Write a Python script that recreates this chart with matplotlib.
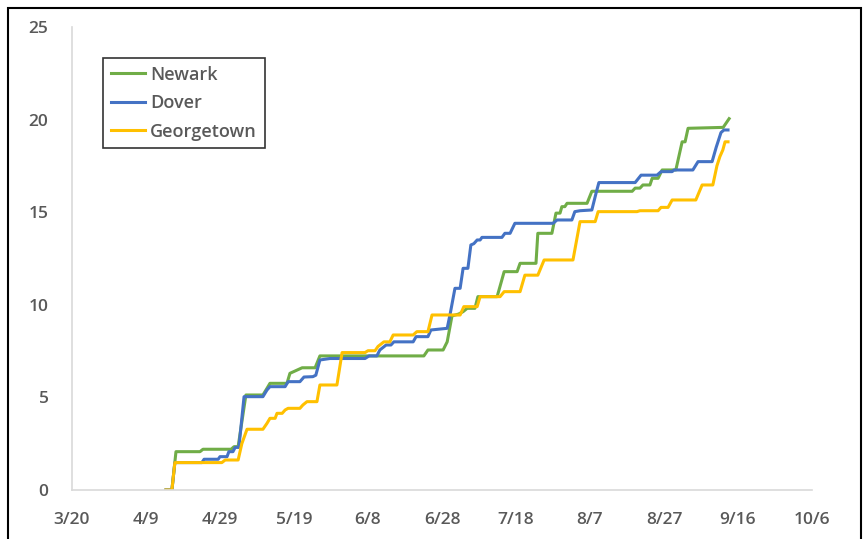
import matplotlib
matplotlib.use("Agg")
import matplotlib.pyplot as plt
from matplotlib.patches import Rectangle

# Days since 3/20
tick_days = [0, 20, 40, 60, 80, 100, 120, 140, 160, 180, 200]
tick_labels = ["3/20", "4/9", "4/29", "5/19", "6/8", "6/28", "7/18", "8/7", "8/27", "9/16", "10/6"]
y_ticks = [0, 5, 10, 15, 20, 25]

newark_day = [25.4, 27.0, 28.1, 34.6, 35.4, 43.0, 43.8, 44.9, 45.4, 47.0, 51.6, 52.7, 53.5,
              58.1, 58.9, 61.1, 62.2, 65.7, 67.0, 95.1, 96.2, 100.3, 101.4, 102.7, 104.5,
              105.7, 106.8, 108.9, 109.7, 114.9, 116.8, 120.3, 121.1, 125.4, 125.9, 129.7,
              130.8, 131.9, 132.4, 133.2, 133.8, 139.2, 140.5, 151.4, 152.2, 153.5, 154.3,
              156.2, 156.8, 158.4, 159.5, 163.2, 164.9, 165.7, 166.5, 176.0, 177.6]
newark_val = [0, 0, 2.07, 2.07, 2.2, 2.2, 2.34, 2.34, 3.0, 5.13, 5.13, 5.49, 5.76,
              5.76, 6.3, 6.5, 6.6, 6.6, 7.24, 7.24, 7.56, 7.56, 8.0, 9.4, 9.5,
              9.63, 9.81, 9.81, 10.44, 10.44, 11.79, 11.79, 12.24, 12.24, 13.86, 13.86,
              14.95, 14.95, 15.3, 15.3, 15.48, 15.48, 16.13, 16.13, 16.3, 16.3, 16.47,
              16.47, 16.83, 16.83, 17.28, 17.28, 18.8, 18.8, 19.53, 19.58, 20.05]

dover_day = [25.4, 27.0, 27.8, 35.1, 35.7, 39.5, 40.0, 41.9, 42.4, 43.5, 44.1, 45.1, 46.5,
             51.6, 52.7, 53.5, 57.6, 58.4, 61.6, 62.7, 65.1, 65.9, 67.0, 69.7, 79.2, 80.3,
             82.4, 83.2, 84.9, 86.2, 87.0, 92.2, 93.0, 96.2, 97.0, 101.4, 102.2, 103.5,
             104.9, 105.7, 107.0, 107.8, 108.6, 109.5, 110.3, 110.8, 116.2, 117.0, 118.4,
             119.7, 130.0, 131.1, 135.1, 135.9, 137.3, 140.5, 141.6, 142.4, 152.2, 153.8,
             158.1, 159.2, 162.2, 162.7, 167.8, 169.2, 173.0, 174.1, 175.4, 176.2, 177.3]
dover_val = [0, 0, 1.48, 1.48, 1.66, 1.66, 1.8, 1.8, 2.07, 2.07, 2.3, 2.3, 5.04,
             5.04, 5.4, 5.58, 5.58, 5.85, 5.85, 6.1, 6.12, 6.2, 7.02, 7.1, 7.1, 7.24,
             7.24, 7.56, 7.83, 7.83, 8.0, 8.0, 8.28, 8.28, 8.64, 8.73, 9.5, 10.89,
             10.89, 11.97, 11.97, 13.23, 13.3, 13.5, 13.5, 13.64, 13.64, 13.86, 13.86,
             14.4, 14.4, 14.58, 14.58, 15.03, 15.08, 15.12, 16.0, 16.6, 16.6, 17.0,
             17.0, 17.19, 17.19, 17.28, 17.28, 17.73, 17.73, 18.5, 19.3, 19.44, 19.44]

georgetown_day = [25.4, 27.0, 27.8, 40.5, 41.4, 44.9, 45.9, 47.3, 51.6, 52.7, 53.5, 54.9,
                  55.4, 56.8, 57.6, 58.4, 61.6, 62.4, 63.5, 66.2, 67.0, 71.6, 73.0, 79.2,
                  80.0, 81.9, 82.7, 84.3, 85.9, 86.8, 92.2, 93.2, 96.2, 97.3, 104.9, 105.9,
                  109.5, 110.3, 115.7, 116.8, 121.1, 122.4, 125.9, 127.6, 135.4, 137.3,
                  141.4, 142.2, 152.7, 153.5, 158.4, 159.2, 161.1, 162.2, 168.6, 170.3,
                  173.2, 174.3, 175.1, 175.9, 176.5, 177.3]
georgetown_val = [0, 0, 1.48, 1.48, 1.62, 1.62, 2.5, 3.28, 3.28, 3.6, 3.87, 3.87,
                  4.14, 4.14, 4.32, 4.41, 4.41, 4.59, 4.77, 4.77, 5.67, 5.67, 7.42, 7.42,
                  7.52, 7.52, 7.75, 8.0, 8.0, 8.37, 8.37, 8.55, 8.55, 9.45, 9.45, 9.9,
                  9.9, 10.44, 10.44, 10.71, 10.71, 11.6, 11.6, 12.42, 12.42, 14.49,
                  14.49, 15.03, 15.03, 15.08, 15.08, 15.26, 15.26, 15.66, 15.66, 16.47,
                  16.47, 17.5, 18.0, 18.36, 18.8, 18.8]

series = [("Newark", newark_day, newark_val, "#70AD47"),
          ("Dover", dover_day, dover_val, "#4472C4"),
          ("Georgetown", georgetown_day, georgetown_val, "#FFC000")]

plt.rcParams['font.family'] = ['Open Sans', 'DejaVu Sans']

fig = plt.figure(figsize=(8.66, 5.39), dpi=100)
ax = fig.add_axes([72/866, 1-490/539, 740/866, 463/539])

for name, d, v, c in series:
    ax.plot(d, v, color=c, lw=2.2, label=name, solid_joinstyle='round')

ax.set_xlim(0, 200)
ax.set_ylim(0, 25)
ax.set_xticks(tick_days)
ax.set_xticklabels(tick_labels)
ax.set_yticks(y_ticks)
ax.tick_params(length=0, labelsize=12.5, labelcolor="#595959")
ax.tick_params(axis='x', pad=15.5)
ax.tick_params(axis='y', pad=17)
for lab in ax.get_xticklabels() + ax.get_yticklabels():
    lab.set_fontweight('semibold')

for s in ['top', 'right']:
    ax.spines[s].set_visible(False)
for s in ['left', 'bottom']:
    ax.spines[s].set_color("#D9D9D9")
    ax.spines[s].set_linewidth(1.2)

leg = ax.legend(loc='upper left', bbox_to_anchor=((103-72)/740, (490-58)/463),
                borderaxespad=0, fontsize=13, frameon=True, fancybox=False,
                handlelength=1.9, handletextpad=0.3, labelspacing=0.58,
                borderpad=0.42, edgecolor='black')
leg.get_frame().set_linewidth(1.2)
for t in leg.get_texts():
    t.set_color("#595959")
    t.set_fontweight('semibold')

fig.patches.append(Rectangle((8/866, -0.05), (861-8)/866, 1.05-8/539, transform=fig.transFigure,
                             fill=False, edgecolor='black', linewidth=1.5))

fig.savefig("out.png", dpi=100)
